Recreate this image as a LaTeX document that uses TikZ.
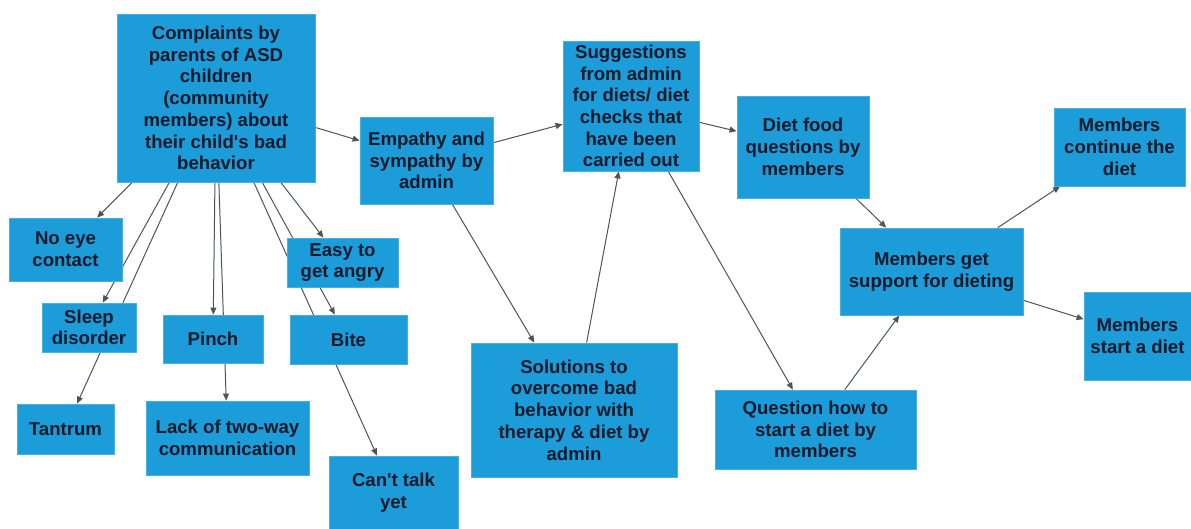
\documentclass[tikz,border=0pt]{standalone}
\usepackage{fontspec}
\setmainfont{Liberation Sans}
\usetikzlibrary{arrows.meta, backgrounds}
\definecolor{boxblue}{HTML}{1C9CD8}
\definecolor{boxedge}{HTML}{4AAEDF}
\definecolor{inkdark}{HTML}{111A2B}
\definecolor{linegrey}{HTML}{4E5555}

\begin{document}
\begin{tikzpicture}[x=1bp, y=-1bp,
    blk/.style={rectangle, draw=boxedge, line width=0.8bp, fill=boxblue, text=inkdark,
      align=center, inner sep=0pt, font=\fontsize{18.6bp}{21.7bp}\selectfont\bfseries},
    arr/.style={-{Triangle[length=7bp, width=6bp]}, color=linegrey, line width=1bp}
  ]
    \useasboundingbox (0,0) rectangle (1191,529);

    % ── Complaint and its symptoms
    \node[blk, minimum width=198bp, minimum height=168bp] (cmp) at (216,98)
      {Complaints by\\parents of ASD\\children\\(community\\members) about\\their child\textquotesingle s bad\\behavior};
    \node[blk, minimum width=113bp, minimum height=63bp] (noeye) at (65.5,249.5) {No eye\\contact};
    \node[blk, minimum width=111bp, minimum height=49bp] (easy) at (342.5,262.5) {Easy to\\get angry};
    \node[blk, minimum width=94bp, minimum height=49bp] (sleep) at (89,327.5) {Sleep\\disorder};
    \node[blk, minimum width=100bp, minimum height=48bp] (pinch) at (213,339) {Pinch};
    \node[blk, minimum width=117bp, minimum height=49bp] (bite) at (348.5,339.5) {Bite};
    \node[blk, minimum width=97bp, minimum height=50bp] (tant) at (65.5,429) {Tantrum};
    \node[blk, minimum width=163bp, minimum height=74bp] (lack) at (227.5,438) {Lack of two-way\\communication};
    \node[blk, minimum width=129bp, minimum height=73bp] (talk) at (393.5,492.5) {Can\textquotesingle t talk\\yet};

    % ── Admin replies
    \node[blk, minimum width=133bp, minimum height=87bp] (emp) at (426.5,160.5) {Empathy and\\sympathy by\\admin};
    \node[blk, minimum width=206bp, minimum height=134bp] (sol) at (574,410)
      {Solutions to\\overcome bad\\behavior with\\therapy \& diet by\\admin};
    \node[blk, minimum width=136bp, minimum height=130bp] (sug) at (631,106)
      {Suggestions\\from admin\\for diets/ diet\\checks that\\have been\\carried out};

    % ── Members
    \node[blk, minimum width=132bp, minimum height=102bp] (diet) at (803,147) {Diet food\\questions by\\members};
    \node[blk, minimum width=201bp, minimum height=79bp] (qst) at (815.5,429.5) {Question how to\\start a diet by\\members};
    \node[blk, minimum width=183bp, minimum height=87bp] (sup) at (931.5,271.5) {Members get\\support for dieting};
    \node[blk, minimum width=131bp, minimum height=78bp] (cont) at (1119.5,147) {Members\\continue the\\diet};
    \node[blk, minimum width=107bp, minimum height=88bp] (start) at (1137.5,336) {Members\\start a diet};

    % ── Arrows (behind the boxes)
    \begin{scope}[on background layer]
      \fill[white] (0,0) rectangle (1191,529);
      \foreach \dst in {noeye, sleep, tant, pinch, lack, easy, bite, talk, emp}
        \draw[arr] (cmp) -- (\dst);
      \draw[arr] (emp) -- (sug);
      \draw[arr] (emp) -- (sol);
      \draw[arr] (sol) -- (sug);
      \draw[arr] (sug) -- (diet);
      \draw[arr] (sug) -- (qst);
      \draw[arr] (diet) -- (sup);
      \draw[arr] (qst) -- (sup);
      \draw[arr] (sup) -- (cont);
      \draw[arr] (sup) -- (start);
    \end{scope}
  \end{tikzpicture}
\end{document}
